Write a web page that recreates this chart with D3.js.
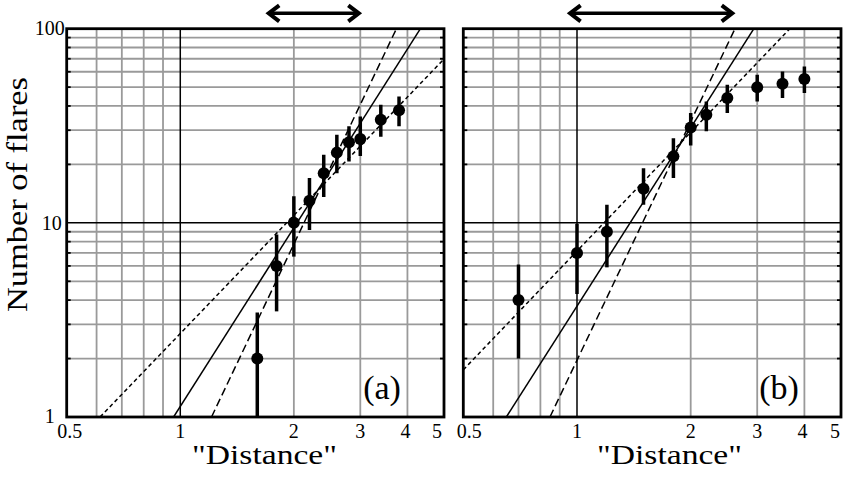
<!DOCTYPE html>
<html>
<head>
<meta charset="utf-8">
<script src="https://cdn.jsdelivr.net/npm/d3@7"></script>
<style>
  body { margin: 0; background: #fff; }
  svg { display: block; }
  text { font-family: "Liberation Serif", "Times New Roman", serif; fill: #000; }
</style>
</head>
<body>
<div id="chart"></div>
<script>
/* values */
const xTickValues = [0.5, 1, 2, 3, 4, 5];
const xTickLabels = ["0.5", "1", "2", "3", "4", "5"];
const yTickValues = [1, 10, 100];
const yTickLabels = ["1", "10", "100"];
const gridX = [0.6, 0.7, 0.8, 0.9, 2, 3, 4];
const gridY = [2, 3, 4, 5, 6, 7, 8, 9, 20, 30, 40, 50, 60, 70, 80, 90];

// panel (a)
const distA = [1.6, 1.8, 2.0, 2.2, 2.4, 2.6, 2.8, 3.0, 3.4, 3.8];
const countA = [2, 6, 10, 13, 18, 23, 26, 27, 34, 38];
const lowA = [0.6, 3.5, 6.7, 9.2, 13.6, 18.0, 20.7, 22.1, 27.8, 31.4];
const highA = [3.45, 8.7, 13.7, 17.0, 22.4, 28.4, 31.4, 35.3, 40.6, 44.8];
const solidA = [[0.96, 1], [4.33, 100]];
const dashedA = [[1.21, 1], [3.74, 100]];
const dottedA = [[0.613, 1], [5, 69.8]];
const arrowA = [1.7, 3.0];

// panel (b)
const distB = [0.7, 1.0, 1.2, 1.5, 1.8, 2.0, 2.2, 2.5, 3.0, 3.5, 4.0];
const countB = [4, 7, 9, 15, 22, 31, 36, 44, 50, 52, 55];
const lowB = [2.0, 4.3, 5.9, 12.4, 17.0, 25.0, 29.6, 36.8, 42.2, 43.9, 46.6];
const highB = [6.1, 9.9, 12.4, 19.1, 27.3, 36.8, 42.2, 51.4, 57.9, 60.2, 63.9];
const solidB = [[0.65, 1], [2.94, 100]];
const dashedB = [[0.848, 1], [2.62, 100]];
const dottedB = [[0.5, 1.75], [3.66, 100]];
const arrowB = [0.95, 2.6];

const width = 844;
const height = 479;
const plotTop = 28.7;
const plotBottom = 417;

const svg = d3.select("#chart")
  .append("svg")
  .attr("width", width)
  .attr("height", height);

const y = d3.scaleLog()
  .domain([1, 100])
  .range([plotBottom, plotTop]);

function drawPanel(opts) {
  const x = d3.scaleLog()
    .domain([0.5, 5])
    .range([opts.left, opts.right]);

  const g = svg.append("g");

  g.append("clipPath")
    .attr("id", "clip-" + opts.name)
    .append("rect")
      .attr("x", opts.left)
      .attr("y", plotTop)
      .attr("width", opts.right - opts.left)
      .attr("height", plotBottom - plotTop);

  // gray grid
  g.append("g")
    .selectAll("line")
    .data(gridX)
    .join("line")
      .attr("x1", d => x(d)).attr("x2", d => x(d))
      .attr("y1", plotTop).attr("y2", plotBottom)
      .attr("stroke", "#9a9a9a")
      .attr("stroke-width", 1.8);

  g.append("g")
    .selectAll("line")
    .data(gridY)
    .join("line")
      .attr("x1", opts.left).attr("x2", opts.right)
      .attr("y1", d => y(d)).attr("y2", d => y(d))
      .attr("stroke", "#9a9a9a")
      .attr("stroke-width", 1.8);

  // small inward ticks on the side edges
  [opts.left, opts.right].forEach((ex, i) => {
    g.append("g")
      .selectAll("line")
      .data(gridY)
      .join("line")
        .attr("x1", ex).attr("x2", ex + (i === 0 ? 4 : -4))
        .attr("y1", d => y(d)).attr("y2", d => y(d))
        .attr("stroke", "#000")
        .attr("stroke-width", 1.8);
  });

  // black lines at 1 and 10
  g.append("line")
    .attr("x1", x(1)).attr("x2", x(1))
    .attr("y1", plotTop).attr("y2", plotBottom)
    .attr("stroke", "#000").attr("stroke-width", 1.5);
  g.append("line")
    .attr("x1", opts.left).attr("x2", opts.right)
    .attr("y1", y(10)).attr("y2", y(10))
    .attr("stroke", "#000").attr("stroke-width", 1.5);

  // fit lines
  const line = d3.line()
    .x(d => x(d[0]))
    .y(d => y(d[1]));

  const fits = g.append("g")
    .attr("clip-path", `url(#clip-${opts.name})`);

  fits.append("path")
    .attr("d", line(opts.solid))
    .attr("fill", "none").attr("stroke", "#000").attr("stroke-width", 1.5);
  fits.append("path")
    .attr("d", line(opts.dashed))
    .attr("fill", "none").attr("stroke", "#000").attr("stroke-width", 1.5)
    .attr("stroke-dasharray", "8,4");
  fits.append("path")
    .attr("d", line(opts.dotted))
    .attr("fill", "none").attr("stroke", "#000").attr("stroke-width", 1.5)
    .attr("stroke-dasharray", "4,3");

  // error bars and points
  const pts = opts.dist.map((d, i) => ({
    d: d, n: opts.count[i], lo: opts.low[i], hi: opts.high[i]
  }));

  const marks = g.append("g")
    .attr("clip-path", `url(#clip-${opts.name})`);

  marks.selectAll("line")
    .data(pts)
    .join("line")
      .attr("x1", p => x(p.d)).attr("x2", p => x(p.d))
      .attr("y1", p => y(Math.max(p.lo, 0.5))).attr("y2", p => y(p.hi))
      .attr("stroke", "#000")
      .attr("stroke-width", 3.5);

  marks.selectAll("circle")
    .data(pts)
    .join("circle")
      .attr("cx", p => x(p.d))
      .attr("cy", p => y(p.n))
      .attr("r", 6)
      .attr("fill", "#000");

  // frame
  g.append("rect")
    .attr("x", opts.left).attr("y", plotTop)
    .attr("width", opts.right - opts.left)
    .attr("height", plotBottom - plotTop)
    .attr("fill", "none")
    .attr("stroke", "#000")
    .attr("stroke-width", 2.8);

  // x tick labels
  g.append("g")
    .selectAll("text")
    .data(xTickValues)
    .join("text")
      .attr("x", (d, i) => x(d) + opts.xShift[i])
      .attr("y", 438)
      .attr("text-anchor", "middle")
      .attr("font-size", 20)
      .text((d, i) => xTickLabels[i]);

  // axis title
  g.append("text")
    .attr("x", opts.titleX - 72)
    .attr("y", 464)
    .attr("font-size", 27)
    .attr("textLength", 145)
    .attr("lengthAdjust", "spacingAndGlyphs")
    .text("\"Distance\"");

  // panel tag
  g.append("text")
    .attr("x", opts.tagX)
    .attr("y", 399)
    .attr("text-anchor", "middle")
    .attr("font-size", 34)
    .text(opts.tag);

  // range arrow
  const ax0 = x(opts.arrow[0]);
  const ax1 = x(opts.arrow[1]);
  const ay = 13.3;
  g.append("line")
    .attr("x1", ax0 + 2).attr("x2", ax1 - 2)
    .attr("y1", ay).attr("y2", ay)
    .attr("stroke", "#000").attr("stroke-width", 3.4);
  g.append("path")
    .attr("d", `M${ax0 + 12},${ay - 8}L${ax0 + 1.5},${ay}L${ax0 + 12},${ay + 8}`)
    .attr("fill", "none").attr("stroke", "#000").attr("stroke-width", 4);
  g.append("path")
    .attr("d", `M${ax1 - 12},${ay - 8}L${ax1 - 1.5},${ay}L${ax1 - 12},${ay + 8}`)
    .attr("fill", "none").attr("stroke", "#000").attr("stroke-width", 4);

  return x;
}

drawPanel({
  name: "a", left: 66.7, right: 444,
  dist: distA, count: countA, low: lowA, high: highA,
  solid: solidA, dashed: dashedA, dotted: dottedA, arrow: arrowA,
  xShift: [3, 0, 0, 0, -2, -7],
  titleX: 264, tag: "(a)", tagX: 382
});

drawPanel({
  name: "b", left: 463.3, right: 841,
  dist: distB, count: countB, low: lowB, high: highB,
  solid: solidB, dashed: dashedB, dotted: dottedB, arrow: arrowB,
  xShift: [6, 0, 0, 0, -2, -6],
  titleX: 669, tag: "(b)", tagX: 779
});

// y tick labels (left panel only)
const yShift = [[-12, 6], [-5, 7], [-2, 6]];
svg.append("g")
  .selectAll("text")
  .data(yTickValues)
  .join("text")
    .attr("x", (d, i) => 66.7 + yShift[i][0])
    .attr("y", (d, i) => y(d) + yShift[i][1])
    .attr("text-anchor", "end")
    .attr("font-size", 20)
    .text((d, i) => yTickLabels[i]);

svg.append("text")
  .attr("transform", "translate(27,312) rotate(-90)")
  .attr("font-size", 30)
  .attr("textLength", 235)
  .attr("lengthAdjust", "spacingAndGlyphs")
  .text("Number of flares");
</script>
</body>
</html>
